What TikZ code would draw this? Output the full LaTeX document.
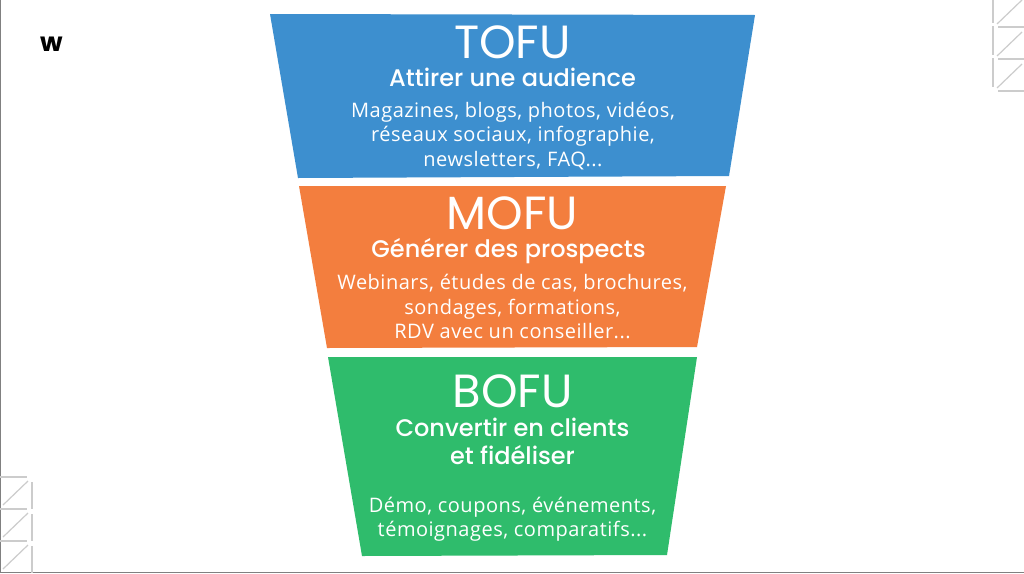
\documentclass[tikz,border=0pt]{standalone}
\usepackage{fontspec}
\setmainfont[LetterSpace=2.5]{Open Sans}
\newfontfamily\headfont{Poppins}
\newfontfamily\subfont{Poppins}[UprightFont=* Medium]
\tikzset{
    band/.style={fill=#1, draw=none},
    headtext/.style={text=white, font=\headfont\fontsize{46.5}{46.5}\selectfont, inner sep=0pt},
    subtext/.style={text=white, font=\subfont\fontsize{24}{28}\selectfont, align=center, inner sep=0pt},
    listtext/.style={text=white, font=\fontsize{20}{24.5}\selectfont, align=center, inner sep=0pt},
    deco/.style={draw=black!20, line width=1.2pt},
}
\definecolor{tofublue}{HTML}{3D8FCF}
\definecolor{mofuorange}{HTML}{F37E3E}
\definecolor{bofugreen}{HTML}{2FBC6C}

\begin{document}
\begin{tikzpicture}[x=1pt, y=-1pt]
    \useasboundingbox (0,0) rectangle (1024,573);
    \fill[white] (0,0) rectangle (1024,573);
    \draw[black!50, line width=1pt] (0.5,0) -- (0.5,572.5) -- (1024,572.5);
    % corner marks
    \foreach \dy in {0,32,64} {
        \draw[deco] (993,{\dy-6}) -- (993,{\dy+23});
        \draw[deco] (997,{\dy+24}) -- (1022,{\dy});
        \draw[deco] (998,{\dy+27}) -- (1024,{\dy+27});
        \draw[deco] (0,{\dy+477}) -- (27,{\dy+477});
        \draw[deco] (3,{\dy+505}) -- (28,{\dy+481});
        \draw[deco] (32,{\dy+482}) -- (32,{\dy+509});
    }
    \node[inner sep=0pt, font=\headfont\bfseries\fontsize{26}{26}\selectfont] (logo) at (51.5,44.5) {w};
    % funnel
    \fill[band=tofublue] (270,14) -- (755,15) -- (729,176) -- (298,178) -- cycle;
    \fill[band=mofuorange] (299,186) -- (726,186) -- (697,347) -- (327,348) -- cycle;
    \fill[band=bofugreen] (328,357) -- (697,357) -- (667,555) -- (362,556) -- cycle;
    \node[headtext] (tofu) at (512.5,42) {TOFU};
    \node[subtext] (tofusub) at (512.5,77) {Attirer une audience};
    \node[listtext] (tofulist) at (513,136) {Magazines, blogs, photos, vidéos,\\réseaux sociaux, infographie,\\newsletters, FAQ...};
    \node[headtext] (mofu) at (512.5,213) {MOFU};
    \node[subtext] (mofusub) at (508.5,251) {Générer des prospects};
    \node[listtext] (mofulist) at (512.5,306.5) {Webinars, études de cas, brochures,\\sondages, formations,\\RDV avec un conseiller...};
    \node[headtext] (bofu) at (512.5,391) {BOFU};
    \node[subtext] (bofusub) at (512.5,441) {Convertir en clients\\et fidéliser};
    \node[listtext] (bofulist) at (512.5,519) {Démo, coupons, événements,\\témoignages, comparatifs...};
\end{tikzpicture}
\end{document}
